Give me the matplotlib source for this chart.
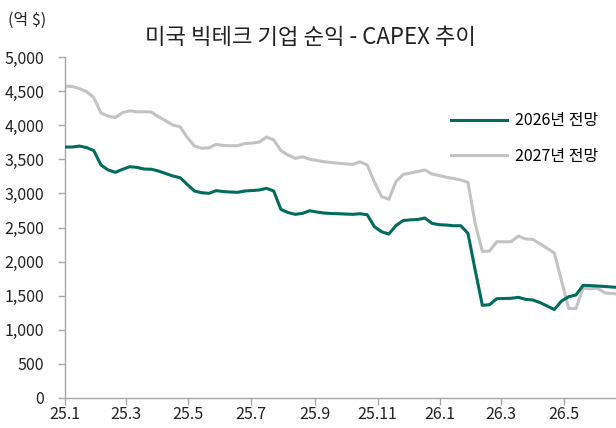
import matplotlib
matplotlib.use("Agg")
import matplotlib.pyplot as plt
import pandas as pd

plt.rcParams['font.family'] = ['Noto Sans CJK KR', 'DejaVu Sans']

title = "미국 빅테크 기업 순익 - CAPEX 추이"
unit_label = "(억 $)"
series_names = ["2026년 전망", "2027년 전망"]

# weekly observations starting 2025-01-01
start_date = "2025-01-01"

est_2026 = [3680, 3680, 3694, 3672, 3628, 3416, 3343, 3309, 3353, 3391,
            3382, 3357, 3354, 3328, 3291, 3255, 3230, 3130, 3035, 3010,
            3001, 3040, 3027, 3020, 3016, 3035, 3042, 3050, 3074, 3035,
            2766, 2719, 2693, 2707, 2746, 2727, 2712, 2705, 2702, 2697,
            2693, 2702, 2687, 2511, 2438, 2404, 2529, 2602, 2612, 2617,
            2639, 2561, 2541, 2536, 2526, 2526, 2414, 1876, 1359, 1368,
            1456, 1459, 1462, 1476, 1447, 1437, 1400, 1349, 1297, 1422,
            1485, 1510, 1652, 1648, 1642, 1635, 1627, 1620]

est_2027 = [4574, 4567, 4537, 4493, 4405, 4178, 4134, 4112, 4185, 4212,
            4197, 4197, 4193, 4124, 4065, 4002, 3977, 3819, 3694, 3661,
            3668, 3719, 3702, 3699, 3699, 3731, 3738, 3753, 3826, 3785,
            3628, 3562, 3514, 3537, 3501, 3482, 3464, 3453, 3442, 3433,
            3426, 3464, 3416, 3167, 2954, 2913, 3174, 3277, 3299, 3321,
            3343, 3284, 3262, 3237, 3218, 3196, 3162, 2561, 2148, 2155,
            2291, 2291, 2291, 2375, 2331, 2326, 2262, 2194, 2126, 1720,
            1312, 1312, 1613, 1601, 1610, 1542, 1532, 1525]

tick_dates = ["2025-01-01", "2025-03-01", "2025-05-01", "2025-07-01", "2025-09-01",
              "2025-11-01", "2026-01-01", "2026-03-01", "2026-05-01"]
tick_labels = ["25.1", "25.3", "25.5", "25.7", "25.9", "25.11", "26.1", "26.3", "26.5"]
y_ticks = [0, 500, 1000, 1500, 2000, 2500, 3000, 3500, 4000, 4500, 5000]

dates = pd.date_range(start_date, periods=len(est_2026), freq="7D")

fig = plt.figure(figsize=(6.16, 4.28), dpi=100)
ax = fig.add_axes([65/616, 1 - 398/428, 1 - 65/616, (398 - 57)/428])

teal = "#006B5E"
grey = "#C3C3C3"
ax.plot(dates, est_2026, color=teal, lw=2.2, label=series_names[0], zorder=3)
ax.plot(dates, est_2027, color=grey, lw=2.2, label=series_names[1], zorder=2)

ax.set_xlim(pd.Timestamp(start_date), pd.Timestamp(start_date) + pd.Timedelta(days=536))
ax.set_ylim(0, 5000)
ax.set_yticks(y_ticks)
ax.set_yticklabels([f"{v:,}" for v in y_ticks])
ax.set_xticks(pd.to_datetime(tick_dates))
ax.set_xticklabels(tick_labels)

spine_c = "#A6A6A6"
for s in ["top", "right"]:
    ax.spines[s].set_visible(False)
for s in ["left", "bottom"]:
    ax.spines[s].set_color(spine_c)
    ax.spines[s].set_linewidth(1.0)
ax.tick_params(axis="both", colors=spine_c, length=5, width=1, labelsize=11.5,
               labelcolor="#222222")
ax.tick_params(axis="y", pad=10)
ax.tick_params(axis="x", pad=1)

fig.text(8/616, 1 - 20/428, unit_label, fontsize=11.5, color="#222222", va="center", ha="left")
fig.text(310/616, 1 - 38/428, title, fontsize=16, color="#222222", va="center", ha="center")

leg = ax.legend(loc="upper left", bbox_to_anchor=((445 - 65)/551, (398 - 106)/341),
                frameon=False, fontsize=11.5, handlelength=3.5, labelspacing=1.15,
                handletextpad=0.5, borderaxespad=0)

fig.savefig("out.png", dpi=100)
